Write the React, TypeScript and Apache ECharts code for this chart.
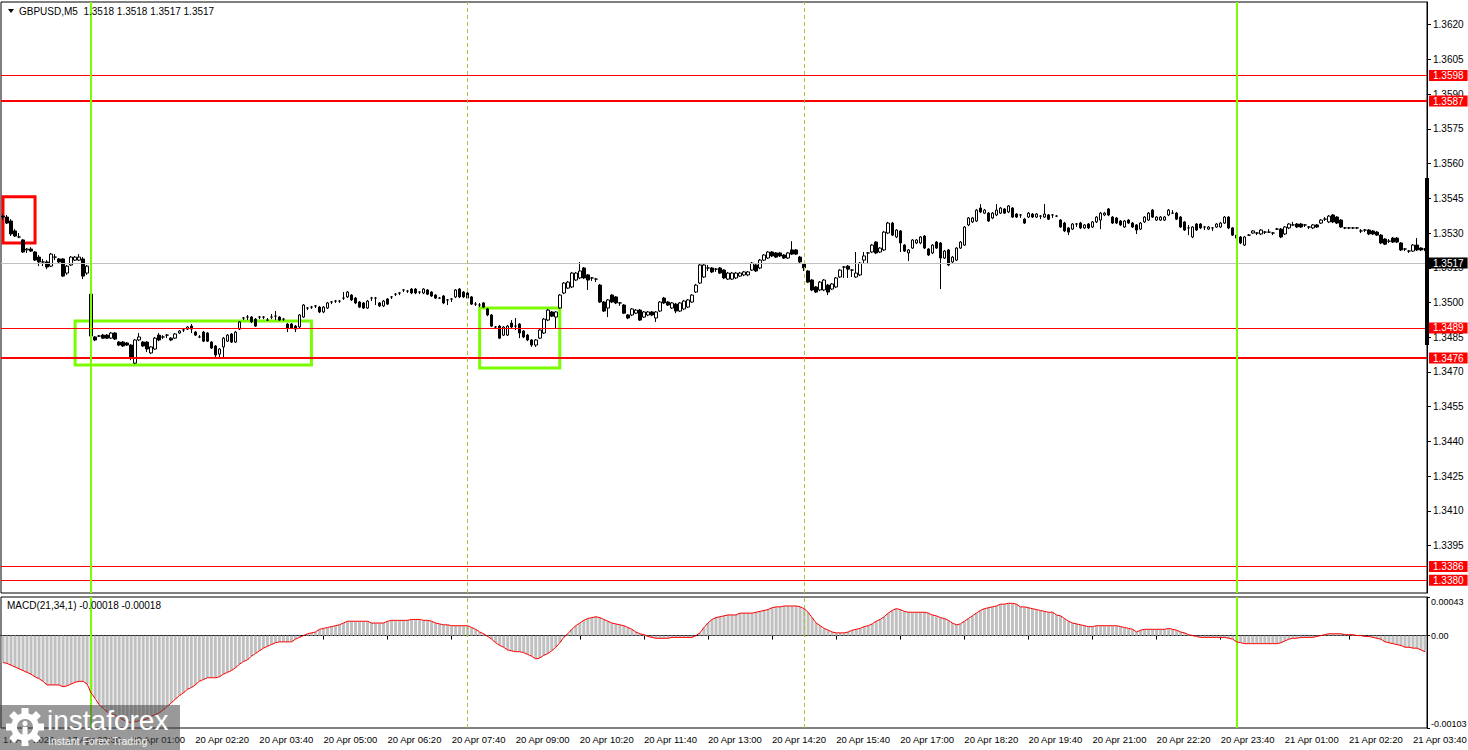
import React, { useEffect, useRef } from 'react';
import * as echarts from 'echarts';

const FONT = '"Liberation Sans", Arial, sans-serif';

// time axis labels, one every 16 bars (5-minute bars)
const timeLabels = [
  '17 Apr 2026', '17 Apr 23:30', '20 Apr 01:00', '20 Apr 02:20', '20 Apr 03:40', '20 Apr 05:00',
  '20 Apr 06:20', '20 Apr 07:40', '20 Apr 09:00', '20 Apr 10:20', '20 Apr 11:40', '20 Apr 13:00',
  '20 Apr 14:20', '20 Apr 15:40', '20 Apr 17:00', '20 Apr 18:20', '20 Apr 19:40', '20 Apr 21:00',
  '20 Apr 22:20', '20 Apr 23:40', '21 Apr 01:00', '21 Apr 02:20', '21 Apr 03:40',
];

const priceTicks = [
  1.3395, 1.341, 1.3425, 1.344, 1.3455, 1.347, 1.3485, 1.35, 1.3515, 1.353, 1.3545, 1.356,
  1.3575, 1.359, 1.3605, 1.362,
];

const macdTicks = [-0.00103, 0, 0.00043];

// horizontal levels
const redLevels = [1.3598, 1.3587, 1.3489, 1.3476, 1.3386, 1.338];
const thickLevels = [1.3587, 1.3476];
const bidPrice = 1.3517;

// vertical markers (bar indexes)
const solidMarkerBars = [22, 308];
const dashedMarkerBars = [116, 200];

// boxes: [fromBar, toBar, topPrice, bottomPrice]
const redBoxes = [[0, 8, 1.35457, 1.35257]];
const greenBoxes = [
  [18, 77, 1.3492, 1.3473],
  [119, 139, 1.34976, 1.34717],
];

// candles: [open, close, low, high]
const candles = [
  [1.35373, 1.35369, 1.35356, 1.35382],
  [1.35369, 1.35343, 1.35339, 1.35378],
  [1.35352, 1.35296, 1.35287, 1.3536],
  [1.35309, 1.35287, 1.35283, 1.35317],
  [1.35283, 1.35283, 1.35278, 1.353],
  [1.3527, 1.35218, 1.35214, 1.35274],
  [1.35227, 1.35231, 1.35214, 1.35235],
  [1.35231, 1.35222, 1.35218, 1.35239],
  [1.35218, 1.35183, 1.35179, 1.35222],
  [1.35196, 1.35175, 1.35157, 1.35205],
  [1.35175, 1.35175, 1.35157, 1.35188],
  [1.35175, 1.35153, 1.35144, 1.35183],
  [1.35157, 1.35209, 1.35153, 1.35214],
  [1.35196, 1.35196, 1.35183, 1.35209],
  [1.35188, 1.35175, 1.3517, 1.35192],
  [1.35188, 1.35114, 1.3511, 1.35192],
  [1.35127, 1.35157, 1.35119, 1.35162],
  [1.35162, 1.35196, 1.35157, 1.35201],
  [1.35183, 1.35196, 1.35179, 1.35201],
  [1.35183, 1.35196, 1.35179, 1.35209],
  [1.35188, 1.35114, 1.35101, 1.35196],
  [1.35127, 1.35157, 1.35119, 1.35162],
  [1.35036, 1.34855, 1.34851, 1.35041],
  [1.34851, 1.34838, 1.34833, 1.34855],
  [1.34855, 1.34855, 1.34851, 1.34859],
  [1.34859, 1.34846, 1.34842, 1.34864],
  [1.34859, 1.34846, 1.34842, 1.34864],
  [1.34846, 1.34868, 1.34842, 1.34872],
  [1.34868, 1.34842, 1.34838, 1.34872],
  [1.34829, 1.34816, 1.34812, 1.34833],
  [1.34829, 1.34812, 1.34808, 1.34833],
  [1.34825, 1.34816, 1.34812, 1.34829],
  [1.34816, 1.3476, 1.34751, 1.3482],
  [1.34738, 1.34838, 1.34734, 1.34842],
  [1.34838, 1.34851, 1.34833, 1.34868],
  [1.34829, 1.34812, 1.34808, 1.34833],
  [1.34829, 1.34799, 1.34786, 1.34833],
  [1.34782, 1.34808, 1.34777, 1.34812],
  [1.34799, 1.34846, 1.34795, 1.34851],
  [1.34859, 1.34838, 1.34833, 1.34868],
  [1.34851, 1.34851, 1.34842, 1.34859],
  [1.34859, 1.34859, 1.34846, 1.34864],
  [1.34846, 1.34838, 1.34833, 1.34851],
  [1.34846, 1.34864, 1.34842, 1.34868],
  [1.34868, 1.34877, 1.34864, 1.34881],
  [1.34881, 1.34881, 1.34872, 1.3489],
  [1.34885, 1.34894, 1.34881, 1.34898],
  [1.34898, 1.34885, 1.34868, 1.34907],
  [1.34872, 1.34859, 1.34855, 1.34877],
  [1.34851, 1.34851, 1.34846, 1.34859],
  [1.34872, 1.34833, 1.34829, 1.34877],
  [1.34868, 1.34833, 1.34829, 1.34872],
  [1.34829, 1.34803, 1.34799, 1.34833],
  [1.34812, 1.34773, 1.34764, 1.34816],
  [1.34777, 1.34799, 1.34764, 1.34803],
  [1.34808, 1.34846, 1.34764, 1.34851],
  [1.34833, 1.34859, 1.34829, 1.34864],
  [1.34864, 1.34829, 1.34825, 1.34868],
  [1.34829, 1.34872, 1.34825, 1.34877],
  [1.34885, 1.34916, 1.34881, 1.3492],
  [1.34933, 1.34933, 1.34924, 1.34937],
  [1.34937, 1.34937, 1.34924, 1.34946],
  [1.34937, 1.34916, 1.34911, 1.34941],
  [1.34928, 1.34898, 1.34894, 1.34933],
  [1.34937, 1.34937, 1.34928, 1.34941],
  [1.34937, 1.34937, 1.34928, 1.34941],
  [1.34924, 1.34924, 1.3492, 1.34933],
  [1.34937, 1.34937, 1.34928, 1.3495],
  [1.34941, 1.34941, 1.34924, 1.34963],
  [1.34937, 1.34924, 1.3492, 1.34941],
  [1.34928, 1.34928, 1.3492, 1.34933],
  [1.34907, 1.3489, 1.34872, 1.34911],
  [1.34907, 1.3489, 1.34885, 1.34911],
  [1.34898, 1.34885, 1.34872, 1.34903],
  [1.34894, 1.34946, 1.3489, 1.3495],
  [1.34937, 1.34989, 1.34933, 1.34993],
  [1.34976, 1.34976, 1.34967, 1.3498],
  [1.3498, 1.3498, 1.34972, 1.34985],
  [1.34985, 1.34985, 1.34976, 1.34989],
  [1.3498, 1.34959, 1.34954, 1.34985],
  [1.34959, 1.3498, 1.34954, 1.34985],
  [1.34976, 1.34998, 1.34972, 1.35002],
  [1.35002, 1.35002, 1.34993, 1.35006],
  [1.35006, 1.35006, 1.34998, 1.35011],
  [1.35006, 1.35006, 1.34998, 1.35011],
  [1.35019, 1.35019, 1.35011, 1.35045],
  [1.35024, 1.35045, 1.35019, 1.35049],
  [1.35032, 1.35011, 1.35006, 1.35036],
  [1.35019, 1.34998, 1.34993, 1.35024],
  [1.35002, 1.3498, 1.34976, 1.35006],
  [1.34998, 1.34976, 1.34972, 1.35002],
  [1.34976, 1.35006, 1.34972, 1.35011],
  [1.35019, 1.35019, 1.35006, 1.35024],
  [1.35019, 1.35019, 1.34989, 1.35024],
  [1.34998, 1.34985, 1.3498, 1.35002],
  [1.34985, 1.35006, 1.3498, 1.35011],
  [1.35015, 1.34993, 1.34989, 1.35019],
  [1.35024, 1.35024, 1.35015, 1.35028],
  [1.35036, 1.35036, 1.35028, 1.35041],
  [1.35041, 1.35041, 1.35032, 1.35045],
  [1.35054, 1.35054, 1.35045, 1.35058],
  [1.35049, 1.35049, 1.35041, 1.35054],
  [1.35058, 1.35041, 1.35036, 1.35062],
  [1.35058, 1.35041, 1.35036, 1.35062],
  [1.35045, 1.35045, 1.35036, 1.35049],
  [1.35041, 1.35058, 1.35036, 1.35062],
  [1.35054, 1.35036, 1.35032, 1.35058],
  [1.35045, 1.35028, 1.35024, 1.35049],
  [1.35032, 1.35019, 1.35015, 1.35036],
  [1.35019, 1.35019, 1.35015, 1.35024],
  [1.35028, 1.34998, 1.34993, 1.35032],
  [1.35011, 1.35011, 1.34989, 1.35015],
  [1.35015, 1.35015, 1.35002, 1.35019],
  [1.35024, 1.35054, 1.35019, 1.35058],
  [1.35058, 1.35024, 1.35019, 1.35062],
  [1.35045, 1.35024, 1.35019, 1.35049],
  [1.35041, 1.35019, 1.35015, 1.35045],
  [1.35024, 1.34993, 1.34989, 1.35028],
  [1.34993, 1.34993, 1.34985, 1.35002],
  [1.34989, 1.34989, 1.3498, 1.34998],
  [1.34998, 1.3498, 1.34976, 1.35002],
  [1.34972, 1.34946, 1.34941, 1.34976],
  [1.34946, 1.34898, 1.34894, 1.3495],
  [1.34894, 1.34894, 1.34885, 1.34898],
  [1.34898, 1.34846, 1.34842, 1.34903],
  [1.34859, 1.34894, 1.34855, 1.34898],
  [1.34859, 1.34898, 1.34855, 1.34903],
  [1.34911, 1.34894, 1.3489, 1.34924],
  [1.34898, 1.34898, 1.34881, 1.34933],
  [1.34907, 1.34868, 1.34846, 1.34911],
  [1.34877, 1.34851, 1.34846, 1.34881],
  [1.34859, 1.34838, 1.34833, 1.34864],
  [1.34838, 1.34816, 1.34808, 1.34842],
  [1.34816, 1.34838, 1.34808, 1.34842],
  [1.34846, 1.34881, 1.34842, 1.34885],
  [1.34868, 1.34928, 1.34864, 1.34933],
  [1.34924, 1.34967, 1.3492, 1.34972],
  [1.34959, 1.34941, 1.34937, 1.34963],
  [1.34937, 1.34959, 1.3489, 1.34963],
  [1.34976, 1.35032, 1.34972, 1.35036],
  [1.35041, 1.35084, 1.35036, 1.35088],
  [1.35062, 1.35088, 1.35058, 1.35093],
  [1.35067, 1.35127, 1.35062, 1.35132],
  [1.35097, 1.35127, 1.35093, 1.35132],
  [1.35106, 1.35136, 1.35101, 1.35175],
  [1.35149, 1.35106, 1.35101, 1.35153],
  [1.35119, 1.35097, 1.35054, 1.35123],
  [1.35106, 1.35106, 1.35093, 1.3511],
  [1.35101, 1.35101, 1.35088, 1.35106],
  [1.35075, 1.35002, 1.34998, 1.3508],
  [1.35002, 1.34963, 1.34959, 1.35006],
  [1.34976, 1.35011, 1.34937, 1.35015],
  [1.35032, 1.35002, 1.34998, 1.35036],
  [1.35024, 1.34998, 1.34993, 1.35028],
  [1.34998, 1.34998, 1.34985, 1.35002],
  [1.34989, 1.34954, 1.3495, 1.34993],
  [1.34946, 1.34933, 1.34928, 1.3495],
  [1.34946, 1.34972, 1.34941, 1.34976],
  [1.34954, 1.34967, 1.3495, 1.34972],
  [1.34967, 1.34924, 1.3492, 1.34972],
  [1.34937, 1.34959, 1.34933, 1.34963],
  [1.34946, 1.34959, 1.34941, 1.34963],
  [1.34959, 1.34946, 1.34941, 1.34963],
  [1.34933, 1.34959, 1.34916, 1.34963],
  [1.34963, 1.35002, 1.34959, 1.35006],
  [1.35019, 1.34998, 1.34993, 1.35024],
  [1.35002, 1.34989, 1.34985, 1.35006],
  [1.34976, 1.34998, 1.34972, 1.35002],
  [1.34993, 1.34963, 1.34954, 1.34998],
  [1.34963, 1.34998, 1.34959, 1.35002],
  [1.34972, 1.35006, 1.34967, 1.35011],
  [1.3498, 1.35011, 1.34976, 1.35015],
  [1.35002, 1.35032, 1.34998, 1.35036],
  [1.35045, 1.35075, 1.35041, 1.3508],
  [1.35084, 1.35162, 1.3508, 1.35166],
  [1.3511, 1.35162, 1.35106, 1.35166],
  [1.35149, 1.35149, 1.35136, 1.35162],
  [1.35149, 1.35132, 1.35127, 1.35153],
  [1.35144, 1.35144, 1.35132, 1.35149],
  [1.35149, 1.35127, 1.35123, 1.35153],
  [1.3514, 1.35106, 1.35101, 1.35144],
  [1.35101, 1.35127, 1.35097, 1.35132],
  [1.35101, 1.35127, 1.35097, 1.35132],
  [1.35106, 1.35127, 1.35101, 1.35132],
  [1.35114, 1.35127, 1.3511, 1.35132],
  [1.35119, 1.35132, 1.35114, 1.35136],
  [1.35119, 1.35132, 1.35114, 1.35136],
  [1.3514, 1.3517, 1.35136, 1.35175],
  [1.35162, 1.35136, 1.35132, 1.35166],
  [1.35149, 1.35183, 1.35144, 1.35188],
  [1.35183, 1.35205, 1.35179, 1.35209],
  [1.35192, 1.35218, 1.35188, 1.35222],
  [1.35218, 1.35201, 1.35196, 1.35222],
  [1.35214, 1.35196, 1.35192, 1.35218],
  [1.35214, 1.35201, 1.35196, 1.35218],
  [1.35205, 1.35192, 1.35188, 1.35209],
  [1.35192, 1.35214, 1.35188, 1.35218],
  [1.35227, 1.35209, 1.35205, 1.35265],
  [1.35227, 1.35209, 1.35205, 1.35231],
  [1.35196, 1.35175, 1.3517, 1.35201],
  [1.35166, 1.35149, 1.35136, 1.3517],
  [1.35136, 1.35088, 1.35084, 1.3514],
  [1.35097, 1.35054, 1.35049, 1.35101],
  [1.35067, 1.35045, 1.35041, 1.35071],
  [1.35054, 1.35088, 1.35049, 1.35093],
  [1.35054, 1.35097, 1.35049, 1.35101],
  [1.35075, 1.35045, 1.35032, 1.3508],
  [1.35058, 1.3508, 1.35054, 1.35084],
  [1.35067, 1.35106, 1.35062, 1.3511],
  [1.3511, 1.3514, 1.35106, 1.35144],
  [1.35153, 1.35153, 1.35106, 1.35157],
  [1.35157, 1.35144, 1.35106, 1.35162],
  [1.3514, 1.3514, 1.3511, 1.35144],
  [1.3511, 1.35127, 1.35106, 1.35218],
  [1.35119, 1.3517, 1.35114, 1.35175],
  [1.35183, 1.35201, 1.3517, 1.35218],
  [1.35214, 1.35214, 1.3517, 1.35218],
  [1.35218, 1.35248, 1.35214, 1.35252],
  [1.35261, 1.35214, 1.35209, 1.35265],
  [1.35218, 1.35235, 1.35214, 1.35239],
  [1.35227, 1.35304, 1.35222, 1.35309],
  [1.353, 1.35343, 1.35296, 1.35348],
  [1.35343, 1.35291, 1.35287, 1.35348],
  [1.35283, 1.35313, 1.35278, 1.35317],
  [1.35309, 1.35257, 1.35218, 1.35313],
  [1.35248, 1.35222, 1.35218, 1.35252],
  [1.35214, 1.35227, 1.35179, 1.35231],
  [1.35235, 1.3527, 1.35231, 1.35274],
  [1.35257, 1.3527, 1.35252, 1.35274],
  [1.35257, 1.35283, 1.35252, 1.35287],
  [1.35287, 1.35235, 1.35231, 1.35291],
  [1.35231, 1.35205, 1.35201, 1.35235],
  [1.35214, 1.35248, 1.35209, 1.35252],
  [1.35261, 1.35235, 1.35231, 1.35265],
  [1.35257, 1.35192, 1.35058, 1.35261],
  [1.35192, 1.35222, 1.35188, 1.35227],
  [1.35227, 1.35162, 1.35157, 1.35231],
  [1.35175, 1.35196, 1.3517, 1.35201],
  [1.35183, 1.35235, 1.35179, 1.35239],
  [1.35235, 1.35261, 1.35231, 1.35265],
  [1.35248, 1.35326, 1.35244, 1.3533],
  [1.35335, 1.35365, 1.3533, 1.35369],
  [1.35348, 1.35365, 1.35343, 1.35369],
  [1.35352, 1.35399, 1.35348, 1.35404],
  [1.35408, 1.35391, 1.35386, 1.35425],
  [1.35386, 1.35399, 1.35382, 1.35404],
  [1.35386, 1.35352, 1.35348, 1.35391],
  [1.35365, 1.35386, 1.3536, 1.35391],
  [1.35378, 1.35399, 1.35373, 1.35425],
  [1.35386, 1.35408, 1.35382, 1.35412],
  [1.35404, 1.35386, 1.35382, 1.35408],
  [1.35391, 1.35417, 1.35386, 1.35421],
  [1.35408, 1.35369, 1.35365, 1.35412],
  [1.35382, 1.35369, 1.35365, 1.35386],
  [1.35378, 1.35378, 1.35365, 1.35382],
  [1.3536, 1.35343, 1.35339, 1.35365],
  [1.35369, 1.35386, 1.35365, 1.35391],
  [1.35382, 1.35369, 1.35365, 1.35386],
  [1.35369, 1.35382, 1.35365, 1.35386],
  [1.35373, 1.35373, 1.3536, 1.35378],
  [1.35369, 1.35382, 1.35365, 1.35425],
  [1.35378, 1.3536, 1.35356, 1.35382],
  [1.35378, 1.35378, 1.35365, 1.35382],
  [1.35373, 1.35373, 1.35369, 1.35378],
  [1.35356, 1.35326, 1.35322, 1.3536],
  [1.35343, 1.35309, 1.35304, 1.35348],
  [1.35322, 1.35304, 1.35291, 1.35326],
  [1.35317, 1.35339, 1.35313, 1.35343],
  [1.35339, 1.35339, 1.35326, 1.35343],
  [1.35343, 1.35322, 1.35317, 1.35348],
  [1.35322, 1.35335, 1.35317, 1.35339],
  [1.35339, 1.35322, 1.35317, 1.35343],
  [1.35326, 1.35348, 1.35322, 1.35352],
  [1.35348, 1.35369, 1.35343, 1.35373],
  [1.35356, 1.35386, 1.35317, 1.35391],
  [1.35378, 1.35386, 1.35373, 1.35391],
  [1.35404, 1.35378, 1.35373, 1.35408],
  [1.35369, 1.35343, 1.35339, 1.35373],
  [1.35365, 1.35343, 1.35339, 1.35369],
  [1.35352, 1.35335, 1.3533, 1.35356],
  [1.35326, 1.35352, 1.35322, 1.35356],
  [1.35356, 1.35343, 1.35339, 1.3536],
  [1.35343, 1.35326, 1.35322, 1.35348],
  [1.35335, 1.35313, 1.35296, 1.35339],
  [1.35317, 1.35343, 1.35313, 1.35348],
  [1.35348, 1.35369, 1.35343, 1.35373],
  [1.35356, 1.35386, 1.35352, 1.35391],
  [1.35399, 1.35369, 1.35365, 1.35404],
  [1.35356, 1.35369, 1.35352, 1.35373],
  [1.35356, 1.35369, 1.35352, 1.35373],
  [1.35356, 1.35369, 1.35352, 1.35373],
  [1.35378, 1.35399, 1.35373, 1.35404],
  [1.35386, 1.35386, 1.35382, 1.35399],
  [1.35386, 1.3536, 1.35356, 1.35391],
  [1.35369, 1.35326, 1.35322, 1.35373],
  [1.35348, 1.35313, 1.35309, 1.35352],
  [1.35322, 1.35322, 1.35291, 1.35335],
  [1.35283, 1.35326, 1.35278, 1.3533],
  [1.35339, 1.35313, 1.35309, 1.35343],
  [1.35339, 1.35322, 1.35317, 1.35343],
  [1.35326, 1.35326, 1.35313, 1.3533],
  [1.35317, 1.35326, 1.35313, 1.3533],
  [1.35322, 1.35322, 1.35309, 1.35326],
  [1.35326, 1.35339, 1.35322, 1.35343],
  [1.35326, 1.35343, 1.35322, 1.35348],
  [1.35343, 1.35369, 1.35339, 1.35373],
  [1.35369, 1.35322, 1.35317, 1.35373],
  [1.35322, 1.35291, 1.35287, 1.35326],
  [1.35291, 1.35278, 1.35274, 1.35296],
  [1.35283, 1.35257, 1.35252, 1.35287],
  [1.35248, 1.35283, 1.35244, 1.35287],
  [1.35291, 1.35291, 1.35287, 1.35296],
  [1.353, 1.35309, 1.35296, 1.35313],
  [1.353, 1.353, 1.35291, 1.35304],
  [1.35296, 1.35313, 1.35291, 1.35317],
  [1.35304, 1.35304, 1.35296, 1.35309],
  [1.35304, 1.35304, 1.353, 1.35317],
  [1.353, 1.353, 1.35291, 1.35304],
  [1.35317, 1.35317, 1.35313, 1.35322],
  [1.35317, 1.35283, 1.35278, 1.35322],
  [1.35296, 1.35326, 1.35291, 1.3533],
  [1.35322, 1.35339, 1.35317, 1.35343],
  [1.35335, 1.35335, 1.3533, 1.35348],
  [1.35339, 1.35326, 1.35322, 1.35343],
  [1.35339, 1.35326, 1.35322, 1.35343],
  [1.35335, 1.35335, 1.35326, 1.35339],
  [1.35326, 1.35326, 1.35317, 1.3533],
  [1.35322, 1.35335, 1.35317, 1.35339],
  [1.35335, 1.35326, 1.35322, 1.35339],
  [1.35343, 1.35356, 1.35339, 1.3536],
  [1.3536, 1.3536, 1.35352, 1.35369],
  [1.35348, 1.35373, 1.35343, 1.35378],
  [1.35378, 1.35348, 1.35343, 1.35382],
  [1.35369, 1.35343, 1.35339, 1.35373],
  [1.35356, 1.35326, 1.35322, 1.3536],
  [1.35322, 1.35322, 1.35317, 1.35326],
  [1.35322, 1.35322, 1.35317, 1.35326],
  [1.35322, 1.35322, 1.35317, 1.35326],
  [1.35322, 1.35322, 1.35317, 1.35326],
  [1.35309, 1.35309, 1.353, 1.35317],
  [1.35313, 1.35313, 1.35304, 1.35317],
  [1.35313, 1.35296, 1.35291, 1.35317],
  [1.35309, 1.35296, 1.35291, 1.35313],
  [1.35304, 1.35291, 1.35287, 1.35309],
  [1.35291, 1.35257, 1.35252, 1.35296],
  [1.35274, 1.35252, 1.35248, 1.35278],
  [1.35265, 1.35265, 1.35257, 1.35274],
  [1.35278, 1.35261, 1.35257, 1.35283],
  [1.35278, 1.35261, 1.35257, 1.35283],
  [1.35257, 1.35227, 1.35222, 1.35261],
  [1.35231, 1.35231, 1.35222, 1.35235],
  [1.35222, 1.35222, 1.35214, 1.35227],
  [1.35222, 1.35248, 1.35218, 1.35252],
  [1.35248, 1.35227, 1.35222, 1.35278],
  [1.35235, 1.35227, 1.35222, 1.35239],
  [1.35231, 1.35231, 1.35222, 1.35235],
];

// MACD(21,34,1) main values; signal (SMA 1) equals the main line
const macd = [
  -0.0003, -0.00031, -0.00033, -0.00035, -0.00037, -0.00039, -0.00041, -0.00043, -0.00046, -0.00048,
  -0.00051, -0.00055, -0.00055, -0.00055, -0.00055, -0.00057, -0.00056, -0.00054, -0.00052, -0.00051,
  -0.00051, -0.00054, -0.00064, -0.0007, -0.00077, -0.00081, -0.00085, -0.00087, -0.00089, -0.00091,
  -0.00094, -0.00096, -0.00097, -0.00096, -0.00095, -0.00094, -0.00093, -0.0009, -0.00088, -0.00086,
  -0.00083, -0.00079, -0.00075, -0.00071, -0.00067, -0.00064, -0.0006, -0.00058, -0.00055, -0.00051,
  -0.00049, -0.00047, -0.00047, -0.00047, -0.00046, -0.00043, -0.00041, -0.00039, -0.00036, -0.00032,
  -0.00029, -0.00027, -0.00023, -0.0002, -0.00017, -0.00014, -0.00012, -0.0001, -0.00008, -0.00007,
  -0.00007, -0.00007, -0.00007, -0.00004, -0.00002, 0, 0.00002, 0.00003, 0.00004, 0.00007,
  0.00008, 0.00009, 0.0001, 0.00011, 0.00012, 0.00014, 0.00016, 0.00016, 0.00016, 0.00016,
  0.00016, 0.00016, 0.00014, 0.00014, 0.00014, 0.00014, 0.00016, 0.00017, 0.00017, 0.00017,
  0.00017, 0.00017, 0.00018, 0.00018, 0.00018, 0.00017, 0.00017, 0.00016, 0.00014, 0.00013,
  0.00012, 0.00012, 0.00011, 0.00011, 0.00011, 0.00011, 0.00011, 0.00009, 0.00007, 0.00004,
  0.00002, -0.00001, -0.00004, -0.00008, -0.00011, -0.00013, -0.00016, -0.00017, -0.00018, -0.00018,
  -0.00019, -0.00021, -0.00023, -0.00026, -0.00025, -0.00022, -0.0002, -0.00017, -0.00013, -0.00008,
  -0.00002, 0.00002, 0.00007, 0.00011, 0.00014, 0.00017, 0.00019, 0.0002, 0.00021, 0.0002,
  0.00018, 0.00016, 0.00014, 0.00013, 0.00012, 0.00011, 0.00009, 0.00007, 0.00004, 0.00002,
  0.00001, -0.00001, -0.00002, -0.00003, -0.00003, -0.00003, -0.00003, -0.00002, -0.00002, -0.00002,
  -0.00002, -0.00002, -0.00002, 0, 0.00003, 0.00009, 0.00014, 0.00018, 0.0002, 0.00021,
  0.00022, 0.00023, 0.00023, 0.00023, 0.00025, 0.00025, 0.00025, 0.00025, 0.00026, 0.00027,
  0.00028, 0.00029, 0.00031, 0.00032, 0.00032, 0.00033, 0.00033, 0.00033, 0.00033, 0.00032,
  0.0003, 0.00026, 0.0002, 0.00014, 0.00011, 0.00008, 0.00006, 0.00004, 0.00003, 0.00003,
  0.00003, 0.00004, 0.00006, 0.00007, 0.00008, 0.0001, 0.00011, 0.00013, 0.00016, 0.00018,
  0.00021, 0.00025, 0.00028, 0.0003, 0.00029, 0.00027, 0.00026, 0.00026, 0.00026, 0.00026,
  0.00026, 0.00025, 0.00023, 0.00022, 0.0002, 0.00019, 0.00017, 0.00014, 0.00012, 0.00013,
  0.00016, 0.00019, 0.00022, 0.00025, 0.00028, 0.0003, 0.00031, 0.00032, 0.00033, 0.00035,
  0.00035, 0.00036, 0.00036, 0.00035, 0.00032, 0.00032, 0.00031, 0.0003, 0.00029, 0.00028,
  0.00027, 0.00026, 0.00026, 0.00023, 0.00022, 0.00019, 0.00016, 0.00014, 0.00013, 0.00012,
  0.00011, 0.0001, 0.0001, 0.00011, 0.00011, 0.00011, 0.00011, 0.00011, 0.00011, 0.0001,
  0.00009, 0.00008, 0.00007, 0.00004, 0.00006, 0.00007, 0.00007, 0.00007, 0.00007, 0.00007,
  0.00007, 0.00008, 0.00007, 0.00006, 0.00004, 0.00003, 0.00001, 0, -0.00001, -0.00002,
  -0.00002, -0.00002, -0.00002, -0.00002, -0.00002, -0.00002, -0.00003, -0.00004, -0.00007, -0.00008,
  -0.00009, -0.00009, -0.00009, -0.00009, -0.00009, -0.00009, -0.00009, -0.00009, -0.00009, -0.00008,
  -0.00006, -0.00004, -0.00003, -0.00003, -0.00002, -0.00002, -0.00002, -0.00002, -0.00001, 0,
  0.00001, 0.00002, 0.00002, 0.00002, 0.00002, 0.00001, 0.00001, 0.00001, 0, 0,
  -0.00001, -0.00001, -0.00002, -0.00003, -0.00004, -0.00007, -0.00008, -0.00009, -0.0001, -0.00011,
  -0.00013, -0.00013, -0.00014, -0.00014, -0.00016, -0.00018,
];

const categories = candles.map((_, i) => String(i));

const RED = '#ff0000';
const GREEN = '#7CFC00';
const DASH_GREEN = '#9ACD32';

function verticalMarkers() {
  return [
    ...solidMarkerBars.map((b) => ({
      xAxis: b,
      lineStyle: { color: GREEN, width: 2, type: 'solid' },
      label: { show: false },
    })),
    ...dashedMarkerBars.map((b) => ({
      xAxis: b,
      lineStyle: { color: DASH_GREEN, width: 1, type: [4, 3] },
      label: { show: false },
    })),
  ];
}

function levelLabel(p: number, bg: string) {
  return {
    show: true,
    position: 'end',
    formatter: p.toFixed(4),
    color: '#fff',
    backgroundColor: bg,
    padding: [1, 4, 0, 4],
    fontSize: 10,
    fontFamily: FONT,
    distance: 2,
  };
}

function buildOption() {
  const boxData = [
    ...redBoxes.map((b) => [
      { xAxis: b[0], yAxis: b[2], itemStyle: { color: 'rgba(0,0,0,0)', borderColor: RED, borderWidth: 3 } },
      { xAxis: b[1], yAxis: b[3] },
    ]),
    ...greenBoxes.map((b) => [
      { xAxis: b[0], yAxis: b[2], itemStyle: { color: 'rgba(0,0,0,0)', borderColor: GREEN, borderWidth: 3 } },
      { xAxis: b[1], yAxis: b[3] },
    ]),
  ];

  const gear: any[] = [
    {
      type: 'ring',
      shape: { cx: 0, cy: 0, r: 14, r0: 8 },
      style: { fill: '#fff' },
      z: 101,
    },
  ];
  for (let k = 0; k < 8; k++) {
    gear.push({
      type: 'rect',
      shape: { x: -3.5, y: -19, width: 7, height: 7 },
      rotation: (k * Math.PI) / 4,
      style: { fill: '#fff' },
      z: 101,
    });
  }
  gear.push(
    { type: 'circle', shape: { cx: 0, cy: -3.5, r: 2.6 }, style: { fill: '#fff' }, z: 101 },
    { type: 'rect', shape: { x: -2.5, y: 0, width: 5, height: 8 }, style: { fill: '#fff' }, z: 101 },
  );

  return {
    animation: false,
    backgroundColor: '#fff',
    textStyle: { fontFamily: FONT },
    grid: [
      {
        left: 1, right: 41, top: 2, height: 591, show: true, borderColor: '#000', borderWidth: 1,
        backgroundColor: '#fff', containLabel: false, outerBoundsMode: 'none',
      },
      {
        left: 1, right: 41, top: 597, height: 131, show: true, borderColor: '#000', borderWidth: 1,
        backgroundColor: '#fff', containLabel: false, outerBoundsMode: 'none',
      },
    ],
    xAxis: [
      {
        type: 'category',
        gridIndex: 0,
        data: categories,
        boundaryGap: true,
        axisLine: { show: false },
        axisTick: { show: false },
        axisLabel: { show: false },
        splitLine: { show: false },
      },
      {
        type: 'category',
        gridIndex: 1,
        data: categories,
        boundaryGap: true,
        axisLine: { show: true, lineStyle: { color: '#000', width: 1 } },
        axisTick: { show: true, interval: 15, alignWithLabel: true, length: 4, lineStyle: { color: '#000' } },
        axisLabel: {
          show: true,
          interval: 15,
          align: 'left',
          margin: 6,
          color: '#000',
          fontSize: 9.5,
          fontFamily: FONT,
          formatter: (_v: string, idx: number) => timeLabels[Math.round(idx / 16)] || '',
        },
        splitLine: { show: false },
      },
    ],
    yAxis: [
      {
        type: 'value',
        gridIndex: 0,
        position: 'right',
        min: 1.33745,
        max: 1.36298,
        scale: true,
        axisLine: { show: true, lineStyle: { color: '#000', width: 1 } },
        axisTick: { show: true, customValues: priceTicks, length: 4, lineStyle: { color: '#000' } },
        axisLabel: {
          customValues: priceTicks,
          formatter: (v: number) => v.toFixed(4),
          color: '#000',
          fontSize: 10,
          fontFamily: FONT,
          margin: 6,
        },
        splitLine: { show: false },
      },
      {
        type: 'value',
        gridIndex: 1,
        position: 'right',
        min: -0.00103,
        max: 0.00043,
        axisLine: { show: true, lineStyle: { color: '#000', width: 1 } },
        axisTick: { show: true, customValues: macdTicks, length: 3, lineStyle: { color: '#000' } },
        axisLabel: {
          customValues: macdTicks,
          formatter: (v: number) => (v === 0 ? '0.00' : v.toFixed(5)),
          color: '#000',
          fontSize: 9,
          fontFamily: FONT,
          margin: 4,
          verticalAlignMaxLabel: 'top',
          verticalAlignMinLabel: 'bottom',
        },
        splitLine: { show: false },
      },
    ],
    series: [
      {
        type: 'candlestick',
        xAxisIndex: 0,
        yAxisIndex: 0,
        data: candles,
        barWidth: 3,
        itemStyle: {
          color: '#fff',
          color0: '#000',
          borderColor: '#000',
          borderColor0: '#000',
          borderWidth: 1,
        },
        silent: true,
        markArea: { silent: true, data: boxData },
        markLine: {
          silent: true,
          symbol: ['none', 'none'],
          precision: 5,
          animation: false,
          data: [
            ...redLevels.map((p) => ({
              yAxis: p,
              lineStyle: { color: RED, width: thickLevels.includes(p) ? 2 : 1, type: 'solid' },
              label: levelLabel(p, RED),
            })),
            {
              yAxis: bidPrice,
              lineStyle: { color: '#c0c0c0', width: 1, type: 'solid' },
              label: levelLabel(bidPrice, '#000'),
            },
            ...verticalMarkers(),
          ],
        },
      },
      {
        type: 'bar',
        xAxisIndex: 1,
        yAxisIndex: 1,
        data: macd,
        barWidth: 3,
        itemStyle: { color: '#c0c0c0' },
        silent: true,
      },
      {
        type: 'line',
        xAxisIndex: 1,
        yAxisIndex: 1,
        data: macd,
        symbol: 'none',
        lineStyle: { color: RED, width: 1 },
        silent: true,
        z: 5,
        markLine: {
          silent: true,
          symbol: ['none', 'none'],
          animation: false,
          data: verticalMarkers(),
        },
      },
    ],
    graphic: [
      { type: 'polygon', shape: { points: [[8, 9], [14, 9], [11, 13]] }, style: { fill: '#000' }, z: 100 },
      {
        type: 'text',
        x: 19,
        y: 6,
        style: { text: 'GBPUSD,M5  1.3518 1.3518 1.3517 1.3517', fill: '#000', font: `10px ${FONT}`, verticalAlign: 'top' },
        z: 100,
      },
      {
        type: 'text',
        x: 7,
        y: 600,
        style: { text: 'MACD(21,34,1) -0.00018 -0.00018', fill: '#000', font: `10px ${FONT}`, verticalAlign: 'top' },
        z: 100,
      },
      { type: 'rect', shape: { x: 1425, y: 178, width: 4, height: 167 }, style: { fill: '#000' }, z: 100 },
      { type: 'rect', shape: { x: 0, y: 705, width: 180, height: 45 }, style: { fill: 'rgba(70,70,70,0.55)' }, z: 100 },
      { type: 'group', x: 25, y: 727, children: gear, z: 101 },
      {
        type: 'text',
        x: 47,
        y: 706,
        style: { text: 'instaforex', fill: '#fff', font: `28px ${FONT}`, verticalAlign: 'top' },
        z: 101,
      },
      {
        type: 'text',
        x: 48,
        y: 735,
        style: { text: 'Instant Forex Trading', fill: 'rgba(255,255,255,0.9)', font: `10.5px ${FONT}`, verticalAlign: 'top' },
        z: 101,
      },
    ],
  };
}

export default function App() {
  const ref = useRef<HTMLDivElement>(null);
  useEffect(() => {
    if (!ref.current) return;
    const chart = echarts.init(ref.current, null, { renderer: 'svg' });
    chart.setOption(buildOption() as any);
    return () => chart.dispose();
  }, []);
  return (
    <div
      ref={ref}
      style={{ position: 'fixed', left: 0, top: 0, width: 1468, height: 750, background: '#fff' }}
    />
  );
}
